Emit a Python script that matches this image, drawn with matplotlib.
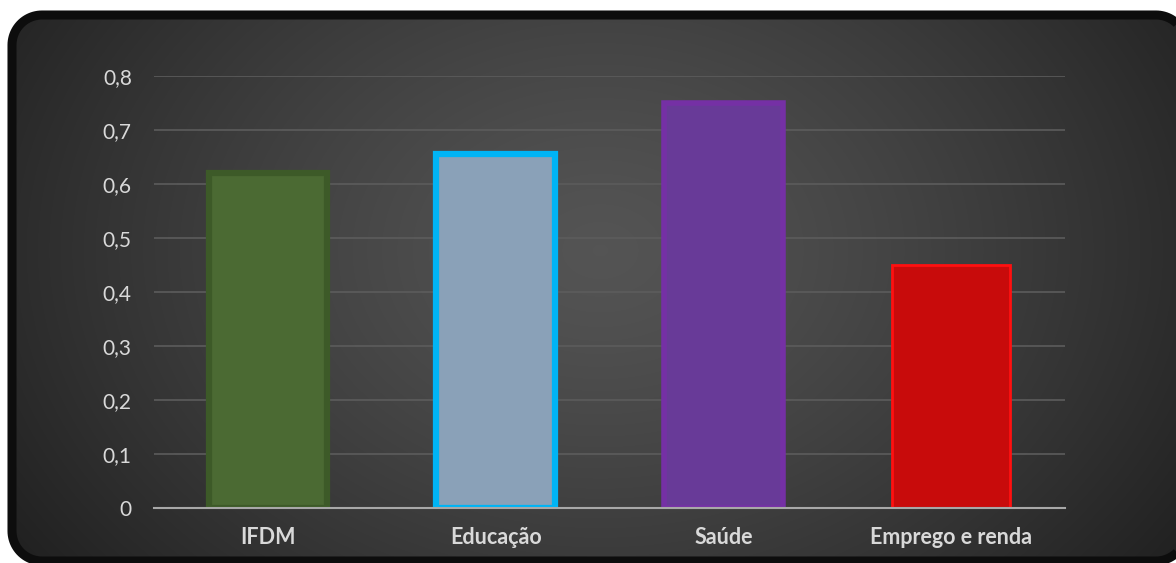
import numpy as np
import matplotlib
matplotlib.use("Agg")
import matplotlib.pyplot as plt
from matplotlib.patches import Polygon

categories = ["IFDM", "Educação", "Saúde", "Emprego e renda"]
values = [0.62, 0.655, 0.75, 0.45]
face_colors = ["#4b6a33", "#8aa1b8", "#683a98", "#c80b0b"]
edge_colors = ["#3d5a28", "#00b4f5", "#7530a5", "#ff1010"]
yticks = [0, 0.1, 0.2, 0.3, 0.4, 0.5, 0.6, 0.7, 0.8]
ytick_labels = ["0", "0,1", "0,2", "0,3", "0,4", "0,5", "0,6", "0,7", "0,8"]

W, H = 1176, 563
fig = plt.figure(figsize=(W / 100, H / 100), dpi=100)
fig.patch.set_facecolor("white")


def rounded_rect(x0, y0, x1, y1, rad, n=24):
    pts = []
    corners = [(x1 - rad, y1 - rad, 0), (x0 + rad, y1 - rad, 90),
               (x0 + rad, y0 + rad, 180), (x1 - rad, y0 + rad, 270)]
    for cx, cy, a0 in corners:
        t = np.radians(np.linspace(a0, a0 + 90, n))
        pts.extend(zip(cx + rad * np.cos(t), cy + rad * np.sin(t)))
    return np.array(pts)


# background panel with radial gradient (pixel coordinates, y up)
bg = fig.add_axes([0, 0, 1, 1])
yy, xx = np.mgrid[0:H, 0:W]
gx, gy = 600, 250  # from top
r = np.sqrt((xx - gx) ** 2 + ((yy - gy) / 0.75) ** 2)
r = r / r.max()
v = 0.33 - 0.21 * r ** 1.3
img = np.dstack([v, v, v])
verts = rounded_rect(12, H - 561, 1186, H - 15, 30)
panel = Polygon(verts, closed=True, facecolor="none", edgecolor="#0d0d0d",
                linewidth=6.5, zorder=3, joinstyle="round", clip_on=False)
bg.add_patch(panel)
im = bg.imshow(img, extent=(0, W, 0, H), origin="upper", zorder=1,
               interpolation="bilinear", aspect="auto")
im.set_clip_path(panel)
bg.set_xlim(0, W)
bg.set_ylim(0, H)
bg.axis("off")

# main axes
x0, x1 = 154, 1065
ytop, ybot = 76, 508
ax = fig.add_axes([x0 / W, 1 - ybot / H, (x1 - x0) / W, (ybot - ytop) / H])
ax.set_facecolor("none")
ax.set_xlim(-0.5, 3.5)
ax.set_ylim(0, 0.8)
x = np.arange(len(categories))
ax.bar(x, values, width=0.52, color=face_colors, edgecolor=edge_colors,
       linewidth=[4.5, 4.5, 4.0, 2.0], zorder=3)
ax.set_yticks(yticks)
ax.set_yticklabels(ytick_labels)
ax.set_xticks(x)
ax.set_xticklabels(categories, fontweight="bold")
ax.yaxis.grid(True, color="#5c5c5c", linewidth=1.2, zorder=0)
ax.set_axisbelow(True)
for s in ["top", "right", "left"]:
    ax.spines[s].set_visible(False)
ax.spines["bottom"].set_color("#a8a8a8")
ax.spines["bottom"].set_linewidth(1.5)
ax.spines["bottom"].set_zorder(4)
ax.tick_params(axis="y", length=0, colors="#d9d9d9", labelsize=15, pad=16)
ax.tick_params(axis="x", length=0, colors="#d9d9d9", labelsize=15.5, pad=14)
for lab in ax.get_xticklabels() + ax.get_yticklabels():
    lab.set_family(["Lato", "DejaVu Sans"])
    lab.set_color("#d9d9d9")

fig.savefig("out.png", dpi=100, facecolor=fig.get_facecolor())
